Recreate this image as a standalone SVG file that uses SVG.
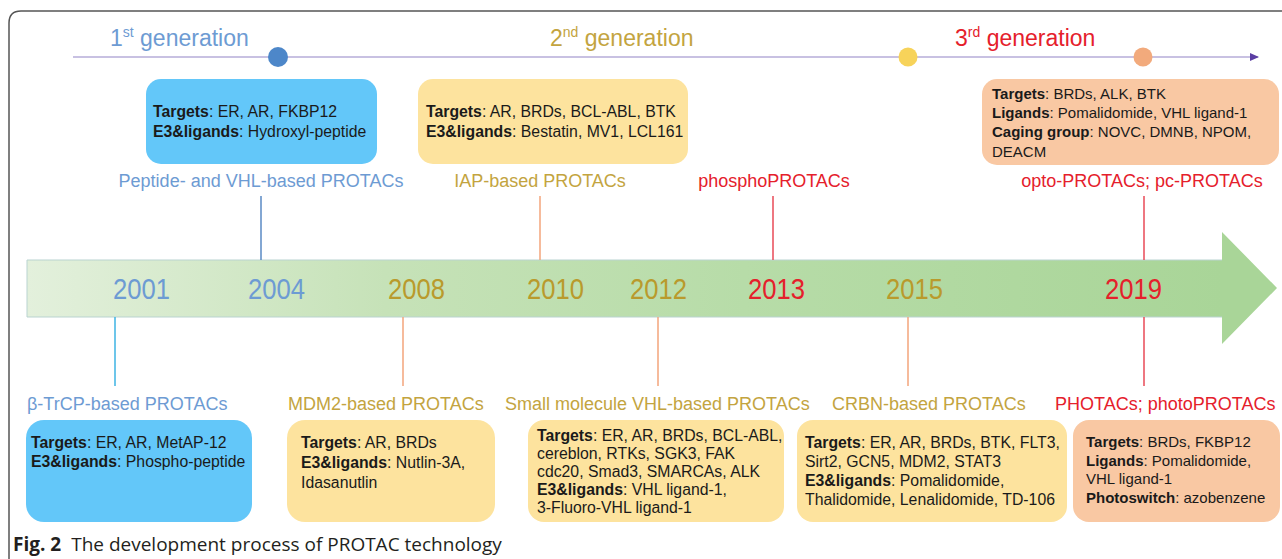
<svg xmlns="http://www.w3.org/2000/svg" width="1282" height="559" viewBox="0 0 1282 559">
<defs>
<linearGradient id="bodyGrad" x1="27" y1="0" x2="1222" y2="0" gradientUnits="userSpaceOnUse">
<stop offset="0" stop-color="#e3f0dc"/>
<stop offset="0.3" stop-color="#c6e2b8"/>
<stop offset="0.6" stop-color="#b7dca8"/>
<stop offset="1" stop-color="#a9d598"/>
</linearGradient>
<marker id="topArrow" markerWidth="10" markerHeight="10" refX="8" refY="5" orient="auto" markerUnits="userSpaceOnUse">
<path d="M0,1 L9,5 L0,9 Z" fill="#5b3ea3"/>
</marker>
<style>
.t{font-family:"Liberation Sans",Arial,sans-serif;}
.box{font-size:15.8px;fill:#1a1a1a;}
.sm{font-size:15px;}
.b{font-weight:bold;}
.lab{font-size:18px;}
.gen{font-size:23px;}
.yr{font-size:30px;}
.blue{fill:#6d9bd3;}
.gold{fill:#c3a440;}
.golddk{fill:#b99a2c;}
.red{fill:#e5202b;}
.c-blue{fill:#63c7f9;}
.c-yel{fill:#fde39e;}
.c-org{fill:#f9c8a3;}
</style>
</defs>

<!-- frame -->
<path d="M9,559 L9,23 Q9,11 21,11 L1282,11" fill="none" stroke="#555" stroke-width="1.5"/>

<!-- generation timeline -->
<g id="gen-line">
<line x1="73" y1="57" x2="1258" y2="57" stroke="#c8c1e2" stroke-width="2" marker-end="url(#topArrow)"/>
<circle cx="278" cy="57" r="10" fill="#4d87c9"/>
<circle cx="908" cy="57" r="9.5" fill="#f7d35a"/>
<circle cx="1143" cy="57" r="9.5" fill="#f2aa7c"/>
<text class="t gen blue" x="110" y="46">1<tspan font-size="14" dy="-9">st</tspan><tspan dy="9"> generation</tspan></text>
<text class="t gen gold" x="550" y="46">2<tspan font-size="14" dy="-9">nd</tspan><tspan dy="9"> generation</tspan></text>
<text class="t gen red" x="955" y="46">3<tspan font-size="14" dy="-9">rd</tspan><tspan dy="9"> generation</tspan></text>
</g>

<!-- main arrow -->
<g id="timeline-arrow">
<path d="M27,260 L1222,260 L1222,232 L1277,288 L1222,344 L1222,317 L27,317 Z" fill="url(#bodyGrad)"/>
<path d="M1222,260 L27,260 L27,317 L1222,317" fill="none" stroke="#b9d3d0" stroke-width="1"/>
<text class="t yr blue" x="113" y="299" textLength="57" lengthAdjust="spacingAndGlyphs">2001</text>
<text class="t yr blue" x="248" y="299" textLength="57" lengthAdjust="spacingAndGlyphs">2004</text>
<text class="t yr golddk" x="388" y="299" textLength="57" lengthAdjust="spacingAndGlyphs">2008</text>
<text class="t yr golddk" x="527" y="299" textLength="57" lengthAdjust="spacingAndGlyphs">2010</text>
<text class="t yr golddk" x="630" y="299" textLength="57" lengthAdjust="spacingAndGlyphs">2012</text>
<text class="t yr red" x="748" y="299" textLength="57" lengthAdjust="spacingAndGlyphs">2013</text>
<text class="t yr golddk" x="886" y="299" textLength="57" lengthAdjust="spacingAndGlyphs">2015</text>
<text class="t yr red" x="1105" y="299" textLength="57" lengthAdjust="spacingAndGlyphs">2019</text>
</g>

<!-- connectors -->
<g id="connectors" stroke-width="1.5">
<line x1="261" y1="196" x2="261" y2="260" stroke="#5a8ac4"/>
<line x1="540" y1="196" x2="540" y2="260" stroke="#f3a47b"/>
<line x1="773" y1="196" x2="773" y2="260" stroke="#e84a57"/>
<line x1="1144" y1="196" x2="1144" y2="260" stroke="#e84a57"/>
<line x1="115" y1="317" x2="115" y2="386" stroke="#3cb3e3"/>
<line x1="403" y1="317" x2="403" y2="386" stroke="#f3a47b"/>
<line x1="658" y1="317" x2="658" y2="386" stroke="#f3a47b"/>
<line x1="908" y1="317" x2="908" y2="386" stroke="#f3a47b"/>
<line x1="1144" y1="317" x2="1144" y2="386" stroke="#e84a57"/>
</g>

<!-- top nodes -->
<g id="node-peptide">
<rect x="146" y="79" width="231" height="85" rx="15" class="c-blue"/>
<text class="t box" x="153" y="117"><tspan class="b">Targets</tspan>: ER, AR, FKBP12</text>
<text class="t box" x="153" y="137"><tspan class="b">E3&amp;ligands</tspan>: Hydroxyl-peptide</text>
<text class="t lab blue" x="261" y="187" text-anchor="middle">Peptide- and VHL-based PROTACs</text>
</g>
<g id="node-iap">
<rect x="418" y="79" width="270" height="85" rx="15" class="c-yel"/>
<text class="t box" x="426" y="117"><tspan class="b">Targets</tspan>: AR, BRDs, BCL-ABL, BTK</text>
<text class="t box" x="426" y="137"><tspan class="b">E3&amp;ligands</tspan>: Bestatin, MV1, LCL161</text>
<text class="t lab gold" x="540" y="187" text-anchor="middle">IAP-based PROTACs</text>
</g>
<g id="node-phospho">
<text class="t lab red" x="774" y="187" text-anchor="middle">phosphoPROTACs</text>
</g>
<g id="node-opto">
<rect x="982" y="79" width="297" height="86" rx="15" class="c-org"/>
<text class="t box sm" x="992" y="99"><tspan class="b">Targets</tspan>: BRDs, ALK, BTK</text>
<text class="t box sm" x="992" y="118"><tspan class="b">Ligands</tspan>: Pomalidomide, VHL ligand-1</text>
<text class="t box sm" x="992" y="137"><tspan class="b">Caging group</tspan>: NOVC, DMNB, NPOM,</text>
<text class="t box sm" x="992" y="157">DEACM</text>
<text class="t lab red" x="1142" y="187" text-anchor="middle">opto-PROTACs; pc-PROTACs</text>
</g>

<!-- bottom nodes -->
<g id="node-btrcp">
<text class="t lab blue" x="27" y="410">β-TrCP-based PROTACs</text>
<rect x="26" y="420" width="226" height="102" rx="18" class="c-blue"/>
<text class="t box" x="31" y="448"><tspan class="b">Targets</tspan>: ER, AR, MetAP-12</text>
<text class="t box" x="31" y="467"><tspan class="b">E3&amp;ligands</tspan>: Phospho-peptide</text>
</g>
<g id="node-mdm2">
<text class="t lab gold" x="288" y="410">MDM2-based PROTACs</text>
<rect x="287" y="420" width="208" height="102" rx="18" class="c-yel"/>
<text class="t box" x="301" y="448"><tspan class="b">Targets</tspan>: AR, BRDs</text>
<text class="t box" x="301" y="468"><tspan class="b">E3&amp;ligands</tspan>: Nutlin-3A,</text>
<text class="t box" x="301" y="488">Idasanutlin</text>
</g>
<g id="node-vhl">
<text class="t lab gold" x="505" y="410">Small molecule VHL-based PROTACs</text>
<rect x="528" y="420" width="256" height="102" rx="16" class="c-yel"/>
<text class="t box" x="537" y="441"><tspan class="b">Targets</tspan>: ER, AR, BRDs, BCL-ABL,</text>
<text class="t box" x="537" y="459">cereblon, RTKs, SGK3, FAK</text>
<text class="t box" x="537" y="477">cdc20, Smad3, SMARCAs, ALK</text>
<text class="t box" x="537" y="495"><tspan class="b">E3&amp;ligands</tspan>: VHL ligand-1,</text>
<text class="t box" x="537" y="513">3-Fluoro-VHL ligand-1</text>
</g>
<g id="node-crbn">
<text class="t lab gold" x="832" y="410">CRBN-based PROTACs</text>
<rect x="797" y="420" width="270" height="102" rx="16" class="c-yel"/>
<text class="t box" x="805" y="448"><tspan class="b">Targets</tspan>: ER, AR, BRDs, BTK, FLT3,</text>
<text class="t box" x="805" y="467">Sirt2, GCN5, MDM2, STAT3</text>
<text class="t box" x="805" y="486"><tspan class="b">E3&amp;ligands</tspan>: Pomalidomide,</text>
<text class="t box" x="805" y="505">Thalidomide, Lenalidomide, TD-106</text>
</g>
<g id="node-photo">
<text class="t lab red" x="1055" y="410">PHOTACs; photoPROTACs</text>
<rect x="1073" y="420" width="207" height="102" rx="16" class="c-org"/>
<text class="t box sm" x="1086" y="447"><tspan class="b">Targets</tspan>: BRDs, FKBP12</text>
<text class="t box sm" x="1086" y="466"><tspan class="b">Ligands</tspan>: Pomalidomide,</text>
<text class="t box sm" x="1086" y="484">VHL ligand-1</text>
<text class="t box sm" x="1086" y="503"><tspan class="b">Photoswitch</tspan>: azobenzene</text>
</g>

<!-- caption -->
<text x="13" y="551" font-family="'Open Sans','Noto Sans',sans-serif" font-size="19" fill="#231f20"><tspan font-weight="bold">Fig. 2</tspan><tspan dx="10">The development process of PROTAC technology</tspan></text>
</svg>
